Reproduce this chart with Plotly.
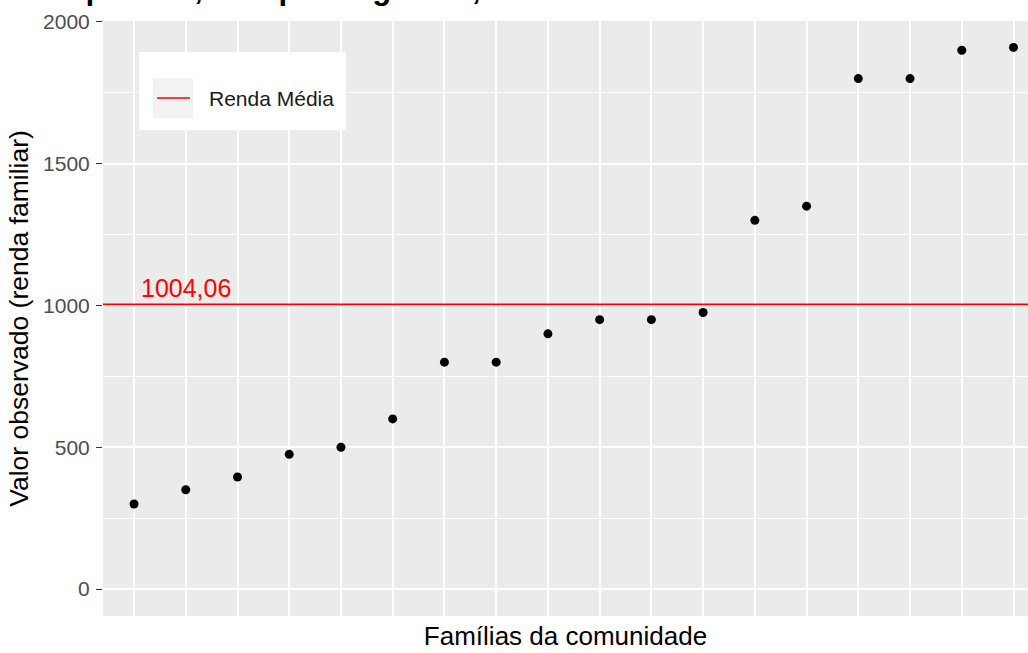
import plotly.graph_objects as go

# Renda familiar observada por família da comunidade (ordenada)
familias = list(range(1, 19))
renda = [300, 350, 395, 475, 500, 600, 800, 800, 900, 950, 950, 975,
         1300, 1350, 1800, 1800, 1900, 1910]
renda_media = 1004.06
rotulo_media = "1004,06"
y_ticks = [0, 500, 1000, 1500, 2000]
y_minor = [250, 750, 1250, 1750]

titulo = "Renda familiar das famílias da comunidade de Aquidabã, Campo Alegre-SE, 2013"
nome_legenda = "Renda Média"
titulo_x = "Famílias da comunidade"
titulo_y = "Valor observado (renda familiar)"

FONT = "Liberation Sans, Arial, sans-serif"
W, H = 1028, 653
ML, MR, MT, MB = 103, 0, 21, 37
PW, PH = W - ML - MR, H - MT - MB


def px(x):
    return (x - ML) / PW


def py(y):
    return (H - MB - y) / PH


fig = go.Figure()

fig.add_trace(go.Scatter(
    x=familias, y=renda, mode="markers",
    marker=dict(color="black", size=9, line=dict(width=0)),
    showlegend=False, hoverinfo="x+y",
))

# linha da renda média
fig.add_hline(y=renda_media, line=dict(color="#FF0000", width=1.7), layer="above")

fig.add_annotation(
    x=2, y=renda_media + 56, xref="x", yref="y", text=rotulo_media,
    showarrow=False, font=dict(family=FONT, size=25, color="#FF0000"),
    xanchor="center", yanchor="middle",
)

# legenda
fig.add_shape(type="rect", xref="paper", yref="paper",
              x0=px(139), x1=px(346), y0=py(130), y1=py(52),
              fillcolor="white", line=dict(width=0), layer="above")
fig.add_shape(type="rect", xref="paper", yref="paper",
              x0=px(153), x1=px(193), y0=py(118), y1=py(78),
              fillcolor="#F2F2F2", line=dict(width=0), layer="above")
fig.add_shape(type="line", xref="paper", yref="paper",
              x0=px(157), x1=px(190), y0=py(98), y1=py(98),
              line=dict(color="#FF0000", width=1.7), layer="above")
fig.add_annotation(
    x=px(207), y=py(99), xref="paper", yref="paper", text=nome_legenda,
    showarrow=False, font=dict(family=FONT, size=21, color="#1A1A1A"),
    xanchor="left", yanchor="middle",
)

# título
fig.add_annotation(
    x=px(560), y=py(8), xref="paper", yref="paper", text="<b>" + titulo + "</b>",
    showarrow=False, font=dict(family=FONT, size=31, color="black"),
    xanchor="right", yanchor="bottom",
)

fig.update_layout(
    width=W, height=H,
    margin=dict(l=ML, r=MR, t=MT, b=MB, autoexpand=False),
    paper_bgcolor="white", plot_bgcolor="#EBEBEB",
    font=dict(family=FONT, color="black"),
    showlegend=False,
)

fig.update_xaxes(
    range=[0.4, 18.28], tickvals=familias, showticklabels=False, ticks="",
    showgrid=True, gridcolor="white", gridwidth=1.5,
    zeroline=False, showline=False,
    title=dict(text=titulo_x, font=dict(family=FONT, size=26, color="black"), standoff=10),
)

fig.update_yaxes(
    range=[-95, 2003], tickvals=y_ticks, ticktext=[str(v) for v in y_ticks],
    ticks="outside", ticklen=6, tickwidth=1.3, tickcolor="#333333",
    ticklabelstandoff=2,
    tickfont=dict(family=FONT, size=21, color="#4D4D4D"),
    showgrid=True, gridcolor="white", gridwidth=1.5,
    minor=dict(tickvals=y_minor, showgrid=True, gridcolor="white", gridwidth=0.8, ticks=""),
    zeroline=False, showline=False,
    title=dict(text=titulo_y, font=dict(family=FONT, size=26.5, color="black"), standoff=6),
)

fig.write_html("out.html")
